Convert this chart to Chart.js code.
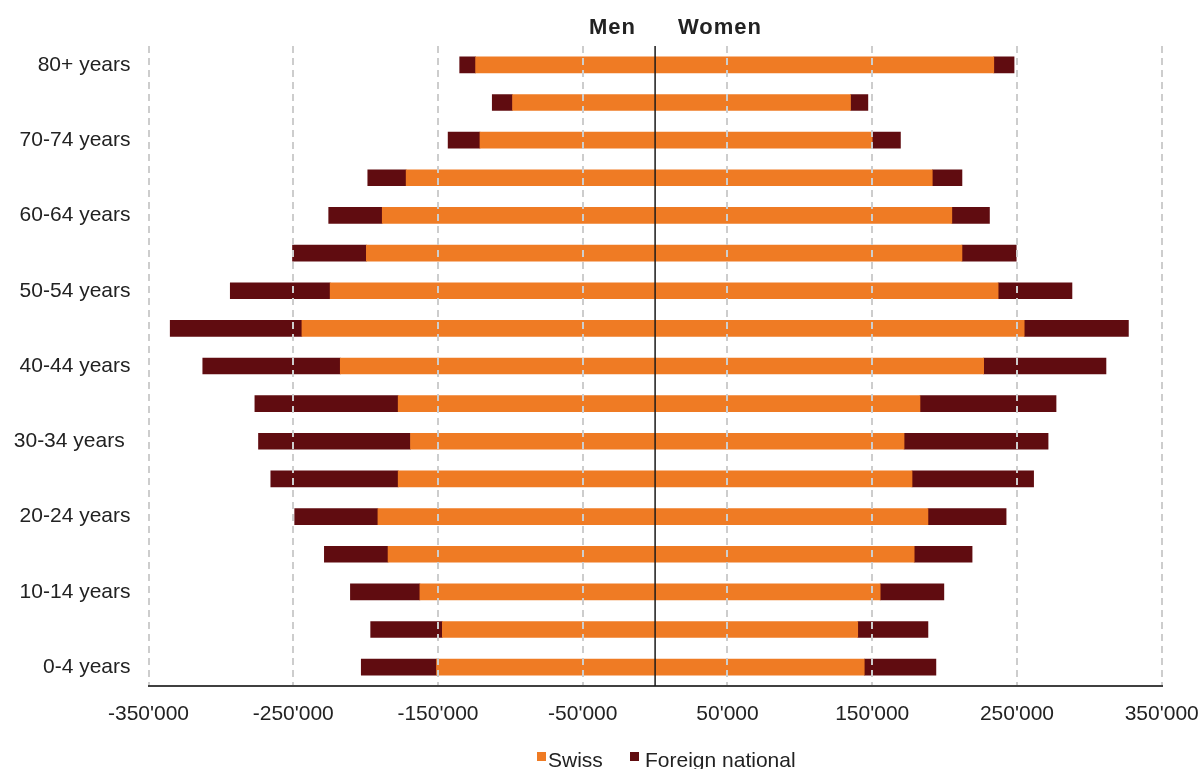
<!DOCTYPE html>
<html>
<head>
<meta charset="utf-8">
<script src="https://cdn.jsdelivr.net/npm/chart.js@4/dist/chart.umd.min.js"></script>
<style>
	html, body { margin: 0; padding: 0; background: #fff; overflow: hidden; }
	#wrap { position: relative; width: 1204px; height: 769px; font-family: "Liberation Sans", Arial, sans-serif; color: #222; }
	#wrap canvas { position: absolute; left: 0; top: 0; }
	.head { position: absolute; top: 16px; font-size: 22px; line-height: 22px; font-weight: bold; letter-spacing: 1px; }
	.leg { position: absolute; top: 749px; font-size: 21px; line-height: 21px; white-space: nowrap; }
	.box { position: absolute; top: 752px; width: 9px; height: 9px; }
</style>
</head>
<body>
<div id="wrap">
	<canvas id="pyramid"></canvas>
	<div class="head" style="left:589px">Men</div>
	<div class="head" style="left:678px">Women</div>
	<div class="box" style="left:537px; background:#ef7b24"></div>
	<div class="leg" style="left:548px">Swiss</div>
	<div class="box" style="left:630px; background:#600c10"></div>
	<div class="leg" style="left:645px">Foreign national</div>
</div>
<script>
// Age groups, top to bottom
const ageGroups = [
	'80+ years', '75-79 years', '70-74 years', '65-69 years', '60-64 years',
	'55-59 years', '50-54 years', '45-49 years', '40-44 years', '35-39 years',
	'30-34 years ', '25-29 years', '20-24 years', '15-19 years', '10-14 years',
	'5-9 years', '0-4 years'
];

// Men (drawn to the left)
const swissMen = [124000, 98500, 121000, 172000, 188500, 199500, 224500, 244000, 217500, 177500, 169000, 177500, 191500, 184500, 162500, 147000, 151000];
const foreignMen = [11000, 14000, 22000, 26500, 37000, 51000, 69000, 91000, 95000, 99000, 105000, 88000, 57500, 44000, 48000, 49500, 52000];

// Women (drawn to the right)
const swissWomen = [234000, 135000, 150000, 191500, 205000, 212000, 237000, 255000, 227000, 183000, 172000, 177500, 188500, 179000, 155500, 140000, 144500];
const foreignWomen = [14000, 12000, 19500, 20500, 26000, 37500, 51000, 72000, 84500, 94000, 99500, 84000, 54000, 40000, 44000, 48500, 49500];

const xTicks = [-350000, -250000, -150000, -50000, 50000, 150000, 250000, 350000];

const ORANGE = '#ef7b24';
const DARKRED = '#600c10';

function formatTick(v) {
	const s = String(Math.abs(v)).replace(/\B(?=(\d{3})+(?!\d))/g, "'");
	return (v < 0 ? '-' : '') + s;
}

// Vertical line at zero
const centerLine = {
	id: 'centerLine',
	afterDraw(chart) {
		const {ctx, chartArea, scales} = chart;
		const x = scales.x.getPixelForValue(0);
		ctx.save();
		ctx.strokeStyle = '#1a1a1a';
		ctx.lineWidth = 1.5;
		ctx.beginPath();
		ctx.moveTo(x, chartArea.top);
		ctx.lineTo(x, chartArea.bottom);
		ctx.stroke();
		ctx.restore();
	}
};

const barStyle = { barThickness: 16, borderWidth: 0 };

new Chart(document.getElementById('pyramid'), {
	type: 'bar',
	data: {
		labels: ageGroups,
		datasets: [
			{ label: 'Swiss', data: swissMen.map(v => -v), backgroundColor: ORANGE, ...barStyle },
			{ label: 'Foreign national', data: foreignMen.map(v => -v), backgroundColor: DARKRED, ...barStyle },
			{ label: 'Swiss', data: swissWomen, backgroundColor: ORANGE, ...barStyle },
			{ label: 'Foreign national', data: foreignWomen, backgroundColor: DARKRED, ...barStyle }
		]
	},
	options: {
		indexAxis: 'y',
		responsive: true,
		maintainAspectRatio: false,
		animation: false,
		layout: { padding: { top: 46, right: 0, bottom: 43, left: 0 } },
		plugins: {
			legend: { display: false },
			tooltip: { enabled: false }
		},
		scales: {
			x: {
				stacked: true,
				min: -350000,
				max: 350000,
				afterBuildTicks: (scale) => { scale.ticks = xTicks.map(v => ({ value: v })); },
				afterFit: (scale) => {
					scale.height = 40;
					// keep the plot edges fixed instead of fitting the end labels
					scale.paddingLeft = 0;
					scale.paddingRight = 42.3;
				},
				grid: { color: '#cdcdcd', lineWidth: 2, drawTicks: false, z: 1 },
				border: { display: true, color: '#404040', width: 2, dash: [7, 5], z: 2 },
				ticks: {
					padding: 16,
					color: '#222',
					font: { family: 'Liberation Sans', size: 21 },
					maxRotation: 0,
					callback: (v) => formatTick(v)
				}
			},
			y: {
				stacked: true,
				afterFit: (scale) => { scale.width = 148.5; },
				grid: { display: false, drawTicks: false },
				border: { display: false },
				ticks: {
					autoSkip: false,
					padding: 18,
					color: '#222',
					font: { family: 'Liberation Sans', size: 21 },
					callback: (v, i) => (i % 2 === 0 ? ageGroups[i] : '')
				}
			}
		}
	},
	plugins: [centerLine]
});
</script>
</body>
</html>
